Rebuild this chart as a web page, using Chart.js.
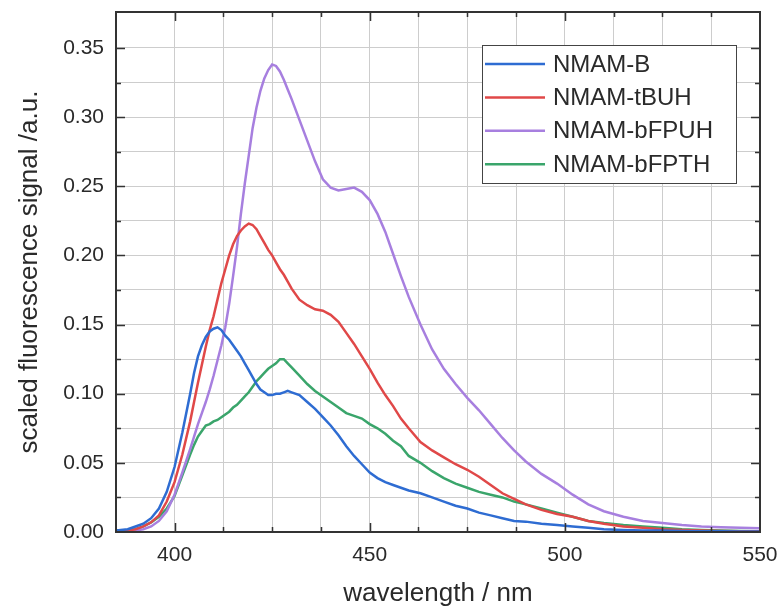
<!DOCTYPE html>
<html>
<head>
<meta charset="utf-8">
<script src="https://cdn.jsdelivr.net/npm/chart.js@4.4.0/dist/chart.umd.min.js"></script>
<style>
  body { margin: 0; background: #fff; }
  #wrap { width: 783px; height: 610px; }
</style>
</head>
<body>
<div id="wrap"><canvas id="myChart" width="783" height="610"></canvas></div>
<script>
// wavelength grid (nm) shared by all four spectra
const wavelength = [385, 388, 390, 392, 394, 396, 398, 400, 402, 404, 405, 406, 407, 408, 409, 410, 411, 412, 413, 414, 415, 416, 417, 418, 419, 420, 421, 422, 423, 424, 425, 426, 427, 428, 429, 430, 432, 434, 436, 438, 440, 442, 444, 446, 448, 450, 452, 454, 456, 458, 460, 463, 466, 469, 472, 475, 478, 481, 484, 487, 490, 494, 498, 502, 506, 510, 515, 520, 525, 530, 535, 540, 545, 550];

const nmamB = [0.001, 0.002, 0.004, 0.006, 0.010, 0.017, 0.029, 0.047, 0.072, 0.100, 0.115, 0.127, 0.135, 0.141, 0.145, 0.147, 0.148, 0.146, 0.142, 0.139, 0.135, 0.131, 0.127, 0.122, 0.117, 0.112, 0.107, 0.103, 0.101, 0.099, 0.099, 0.100, 0.100, 0.101, 0.102, 0.101, 0.099, 0.094, 0.089, 0.083, 0.077, 0.070, 0.062, 0.055, 0.049, 0.043, 0.039, 0.036, 0.034, 0.032, 0.030, 0.028, 0.025, 0.022, 0.019, 0.017, 0.014, 0.012, 0.010, 0.008, 0.0075, 0.006, 0.005, 0.004, 0.003, 0.002, 0.0015, 0.001, 0.001, 0.0008, 0.0006, 0.0005, 0.0004, 0.0003];

const nmamTBUH = [0.0005, 0.001, 0.002, 0.004, 0.007, 0.012, 0.022, 0.036, 0.056, 0.080, 0.094, 0.108, 0.121, 0.134, 0.146, 0.156, 0.168, 0.180, 0.190, 0.200, 0.208, 0.214, 0.218, 0.221, 0.223, 0.222, 0.219, 0.214, 0.209, 0.204, 0.200, 0.195, 0.190, 0.186, 0.181, 0.176, 0.168, 0.164, 0.161, 0.160, 0.157, 0.152, 0.144, 0.136, 0.127, 0.118, 0.108, 0.099, 0.091, 0.082, 0.075, 0.065, 0.059, 0.054, 0.049, 0.045, 0.040, 0.034, 0.028, 0.024, 0.020, 0.016, 0.013, 0.011, 0.008, 0.006, 0.004, 0.003, 0.002, 0.0015, 0.001, 0.0008, 0.0006, 0.0005];

const nmamBFPUH = [0.0003, 0.0005, 0.001, 0.002, 0.004, 0.008, 0.015, 0.027, 0.043, 0.060, 0.069, 0.078, 0.086, 0.094, 0.103, 0.113, 0.124, 0.135, 0.148, 0.165, 0.185, 0.206, 0.230, 0.252, 0.272, 0.292, 0.307, 0.319, 0.328, 0.334, 0.338, 0.337, 0.333, 0.327, 0.320, 0.313, 0.298, 0.283, 0.268, 0.255, 0.249, 0.247, 0.248, 0.249, 0.246, 0.240, 0.230, 0.217, 0.201, 0.185, 0.170, 0.150, 0.132, 0.118, 0.107, 0.097, 0.088, 0.078, 0.068, 0.059, 0.051, 0.042, 0.035, 0.027, 0.020, 0.015, 0.011, 0.008, 0.0065, 0.005, 0.004, 0.0035, 0.003, 0.0028];

const nmamBFPTH = [0.001, 0.0015, 0.002, 0.004, 0.007, 0.011, 0.017, 0.026, 0.041, 0.056, 0.063, 0.069, 0.073, 0.077, 0.078, 0.080, 0.081, 0.083, 0.085, 0.087, 0.090, 0.092, 0.095, 0.098, 0.101, 0.105, 0.109, 0.112, 0.115, 0.118, 0.120, 0.122, 0.125, 0.125, 0.122, 0.119, 0.113, 0.107, 0.102, 0.098, 0.094, 0.090, 0.086, 0.084, 0.082, 0.078, 0.075, 0.071, 0.066, 0.062, 0.055, 0.050, 0.044, 0.039, 0.035, 0.032, 0.029, 0.027, 0.025, 0.022, 0.020, 0.017, 0.014, 0.011, 0.008, 0.0065, 0.005, 0.004, 0.003, 0.002, 0.0015, 0.001, 0.0008, 0.0006];

const seriesNames = ["NMAM-B", "NMAM-tBUH", "NMAM-bFPUH", "NMAM-bFPTH"];
const seriesColors = ["#2e6cd2", "#e04848", "#a77fdf", "#3aa56b"];
const seriesValues = [nmamB, nmamTBUH, nmamBFPUH, nmamBFPTH];

const textColor = "#2a2a2a";
const fontFamily = "'Liberation Sans', Arial, sans-serif";

function isMajor(v, step) {
  const r = v / step;
  return Math.abs(r - Math.round(r)) < 1e-6;
}

// box around the plot + inward tick marks (Origin style)
const framePlugin = {
  id: "frame",
  afterDatasetsDraw(chart) {
    const ctx = chart.ctx;
    const a = chart.chartArea;
    const xs = chart.scales.x;
    const ys = chart.scales.y;
    ctx.save();
    ctx.strokeStyle = "#333";
    ctx.lineWidth = 1.5;
    ctx.beginPath();
    xs.ticks.forEach((t) => {
      if (t.value <= xs.min || t.value >= xs.max) return;
      const x = Math.round(xs.getPixelForValue(t.value)) + 0.5;
      const len = isMajor(t.value, 50) ? 9 : 5;
      ctx.moveTo(x, a.bottom);
      ctx.lineTo(x, a.bottom - len);
      ctx.moveTo(x, a.top);
      ctx.lineTo(x, a.top + len);
    });
    ys.ticks.forEach((t) => {
      if (t.value <= ys.min || t.value >= ys.max) return;
      const y = Math.round(ys.getPixelForValue(t.value)) + 0.5;
      const len = isMajor(t.value, 0.05) ? 9 : 5;
      ctx.moveTo(a.left, y);
      ctx.lineTo(a.left + len, y);
      ctx.moveTo(a.right, y);
      ctx.lineTo(a.right - len, y);
    });
    ctx.stroke();
    ctx.lineWidth = 2;
    ctx.strokeRect(a.left, a.top, a.right - a.left, a.bottom - a.top);
    ctx.restore();
  },
};

// legend box inside the plot, upper right
const legendPlugin = {
  id: "boxLegend",
  afterDraw(chart) {
    const ctx = chart.ctx;
    const a = chart.chartArea;
    const left = a.right - 278;
    const top = a.top + 33;
    const w = 254;
    const h = 138;
    const rowH = 33.4;
    ctx.save();
    ctx.fillStyle = "#fff";
    ctx.fillRect(left, top, w, h);
    ctx.strokeStyle = "#444";
    ctx.lineWidth = 1;
    ctx.strokeRect(left + 0.5, top + 0.5, w, h);
    ctx.font = "24px " + fontFamily;
    ctx.textBaseline = "middle";
    ctx.textAlign = "left";
    chart.data.datasets.forEach((ds, i) => {
      const y = top + 19 + i * rowH;
      ctx.strokeStyle = ds.borderColor;
      ctx.lineWidth = 2.5;
      ctx.beginPath();
      ctx.moveTo(left + 3, y);
      ctx.lineTo(left + 63, y);
      ctx.stroke();
      ctx.fillStyle = textColor;
      ctx.fillText(ds.label, left + 71, y + 1);
    });
    ctx.restore();
  },
};

function createChart() {
  const datasets = seriesNames.map((name, i) => ({
    label: name,
    data: wavelength.map((w, j) => ({ x: w, y: seriesValues[i][j] })),
    borderColor: seriesColors[i],
    backgroundColor: seriesColors[i],
    borderWidth: 2.5,
    pointRadius: 0,
    tension: 0,
  }));

  const config = {
    type: "line",
    data: { datasets: datasets },
    options: {
      responsive: false,
      animation: false,
      devicePixelRatio: 1,
      layout: { padding: { left: 0, right: 23, top: 12, bottom: 0 } },
      plugins: {
        legend: { display: false },
        tooltip: { enabled: false },
      },
      scales: {
        x: {
          type: "linear",
          min: 385,
          max: 550,
          afterFit: (scale) => {
            scale.height = 78;
            scale.paddingLeft = 0;
            scale.paddingRight = 0;
          },
          border: { display: false },
          grid: { color: "#cdcdcd", lineWidth: 1, drawTicks: false },
          ticks: {
            stepSize: 12.5,
            autoSkip: false,
            maxRotation: 0,
            padding: 11,
            color: textColor,
            font: { size: 21, family: fontFamily },
            callback: (v) => (isMajor(v, 50) ? String(v) : ""),
          },
          title: {
            display: true,
            text: "wavelength / nm",
            color: textColor,
            font: { size: 26, family: fontFamily },
            padding: { top: 0, bottom: 1 },
          },
        },
        y: {
          type: "linear",
          min: 0,
          max: 0.376,
          afterFit: (scale) => {
            scale.width = 116;
            scale.paddingTop = 0;
            scale.paddingBottom = 0;
          },
          border: { display: false },
          grid: { color: "#cdcdcd", lineWidth: 1, drawTicks: false },
          ticks: {
            stepSize: 0.025,
            autoSkip: false,
            padding: 12,
            color: textColor,
            font: { size: 21, family: fontFamily },
            callback: (v) => (isMajor(v, 0.05) ? v.toFixed(2) : ""),
          },
          title: {
            display: true,
            text: "scaled fluorescence signal /a.u.",
            color: textColor,
            font: { size: 26, family: fontFamily },
            padding: { top: 14, bottom: 0 },
          },
        },
      },
    },
    plugins: [framePlugin, legendPlugin],
  };

  return new Chart(document.getElementById("myChart"), config);
}

createChart();
</script>
</body>
</html>
